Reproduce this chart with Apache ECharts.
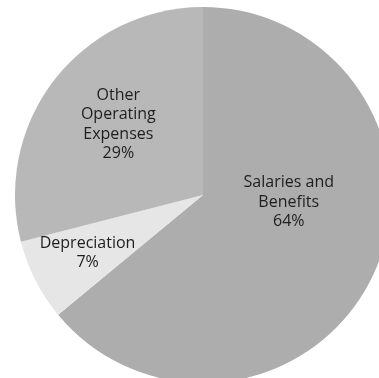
<!DOCTYPE html>
<html><head><meta charset="utf-8">
<script src="https://cdn.jsdelivr.net/npm/echarts@6/dist/echarts.min.js"></script>
<style>html,body{margin:0;padding:0;background:#fff}#c{width:379px;height:378px}</style>
</head><body><div id="c"></div>
<script>
const categories = ['Salaries and\nBenefits', 'Depreciation', 'Other\nOperating\nExpenses'];
const values = [64, 7, 29];
const colors = ['#adadad', '#e6e6e6', '#b8b8b8'];
const labelShift = [[-2, -34], [-29, 14], [-8, -11]];

const chart = echarts.init(document.getElementById('c'), null, {renderer: 'canvas'});
chart.setOption({
  animation: false,
  backgroundColor: '#ffffff',
  series: [{
    type: 'pie',
    center: [203, 195],
    radius: [0, 188],
    startAngle: 90,
    clockwise: true,
    data: categories.map((n, i) => ({name: n, value: values[i], itemStyle: {color: colors[i]}})),
    itemStyle: {borderWidth: 0},
    label: {
      show: true,
      position: 'inside',
      formatter: '{b}\n{c}%',
      fontFamily: 'Open Sans',
      fontSize: 16,
      lineHeight: 19.5,
      color: '#1e1e1e',
      align: 'center'
    },
    labelLine: {show: false},
    labelLayout: function (p) {
      const s = labelShift[p.dataIndex];
      return {dx: s[0], dy: s[1]};
    }
  }]
});
</script></body></html>
